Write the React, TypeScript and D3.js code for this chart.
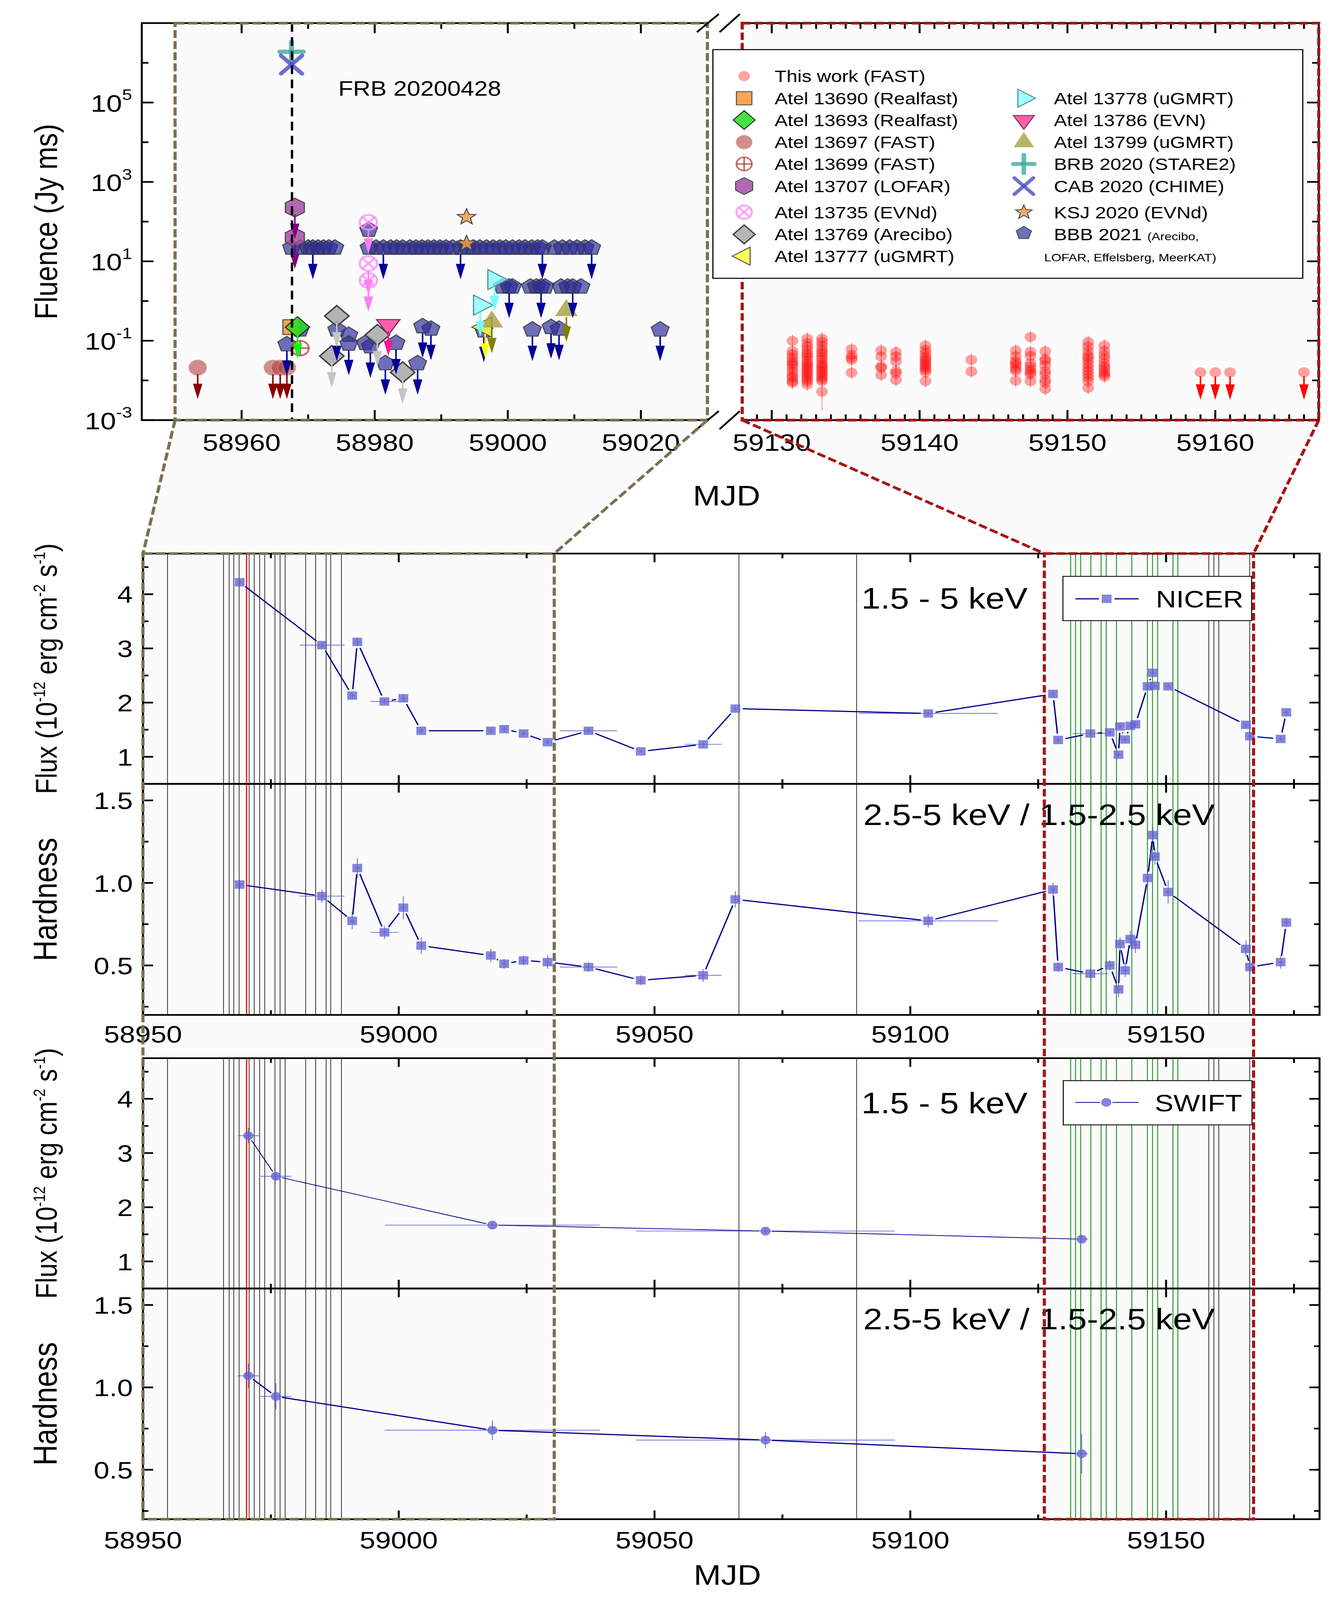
import React from "react";
import * as d3 from "d3";

const FONT = "'Liberation Sans', Arial, Helvetica, sans-serif";

// ---------------- top panel: radio fluence ----------------
const frbMjd = 58967.57;

const fastDays = [59131.4, 59132.4, 59133.4, 59135.4, 59137.4, 59138.4, 59140.4, 59143.5, 59146.5, 59147.5, 59148.5, 59151.4, 59152.5];
const fastFluence = [
  [0.099, 0.055, 0.045, 0.0375, 0.031, 0.027, 0.0238, 0.0196, 0.0161, 0.0133, 0.0117, 0.0096, 0.0087],
  [0.113, 0.087, 0.072, 0.059, 0.049, 0.043, 0.0375, 0.031, 0.027, 0.0238, 0.0209, 0.0184, 0.0161, 0.0142, 0.0124, 0.0109, 0.0096, 0.0079],
  [0.113, 0.093, 0.076, 0.061, 0.052, 0.045, 0.0375, 0.033, 0.027, 0.0238, 0.0209, 0.0184, 0.0161, 0.0142, 0.0124, 0.0109, 0.0096, 0.0052],
  [0.061, 0.044, 0.0375, 0.033, 0.0156],
  [0.057, 0.04, 0.0223, 0.0209, 0.0137],
  [0.052, 0.04, 0.03, 0.0172, 0.0151, 0.0103],
  [0.076, 0.059, 0.049, 0.04, 0.035, 0.031, 0.027, 0.0238, 0.0209, 0.0184, 0.0161, 0.0096],
  [0.033, 0.0167],
  [0.057, 0.041, 0.031, 0.027, 0.0238, 0.0196, 0.0172, 0.0099],
  [0.124, 0.052, 0.041, 0.027, 0.0223, 0.0184, 0.0161, 0.0142, 0.0096],
  [0.054, 0.035, 0.031, 0.0238, 0.0172, 0.0142, 0.0103, 0.0087, 0.0061],
  [0.093, 0.072, 0.055, 0.043, 0.0375, 0.031, 0.0254, 0.0209, 0.0172, 0.0142, 0.0117, 0.0096, 0.0065],
  [0.076, 0.055, 0.043, 0.035, 0.027, 0.0223, 0.0196, 0.0161, 0.0142, 0.0124],
];
const fastUpperDays = [59159.0, 59160.0, 59161.0, 59166.0];
const fastUpperFluence = [0.016, 0.016, 0.016, 0.016];

type Pt = { mjd: number; f: number; ul?: boolean };

const bbb2021: Pt[] = [
  { mjd: 58967.5, f: 22 }, { mjd: 58968.8, f: 22 }, { mjd: 58970.0, f: 22 }, { mjd: 58970.7, f: 22, ul: true },
  { mjd: 58971.5, f: 22 }, { mjd: 58972.3, f: 22 }, { mjd: 58973.1, f: 22 }, { mjd: 58974.0, f: 22 },
  { mjd: 58979.1, f: 62 },
  { mjd: 58979.15, f: 22 }, { mjd: 58980.2, f: 22 }, { mjd: 58981.3, f: 22, ul: true }, { mjd: 58982.4, f: 22 },
  { mjd: 58983.3, f: 22 }, { mjd: 58984.2, f: 22 }, { mjd: 58985.3, f: 22 }, { mjd: 58986.2, f: 22 },
  { mjd: 58987.1, f: 22 }, { mjd: 58988.0, f: 22 }, { mjd: 58988.9, f: 22 }, { mjd: 58989.8, f: 22 },
  { mjd: 58990.7, f: 22 }, { mjd: 58991.7, f: 22 }, { mjd: 58992.9, f: 22, ul: true }, { mjd: 58993.9, f: 22 },
  { mjd: 58994.8, f: 22 }, { mjd: 58995.8, f: 22 }, { mjd: 58996.8, f: 22 }, { mjd: 58997.8, f: 22 },
  { mjd: 58998.8, f: 22 }, { mjd: 58999.7, f: 22 }, { mjd: 59000.7, f: 22 }, { mjd: 59001.7, f: 22 },
  { mjd: 59002.6, f: 22 }, { mjd: 59003.6, f: 22 }, { mjd: 59004.5, f: 22 }, { mjd: 59005.2, f: 22, ul: true },
  { mjd: 59007.0, f: 22 }, { mjd: 59008.2, f: 22 }, { mjd: 59009.3, f: 22 }, { mjd: 59010.4, f: 22 },
  { mjd: 59011.6, f: 22 }, { mjd: 59012.6, f: 22, ul: true },
  { mjd: 58999.2, f: 2.3 }, { mjd: 59000.2, f: 2.3, ul: true }, { mjd: 59000.7, f: 2.3 }, { mjd: 59003.4, f: 2.3 },
  { mjd: 59004.3, f: 2.3 }, { mjd: 59005.0, f: 2.3, ul: true }, { mjd: 59005.6, f: 2.3 }, { mjd: 59008.0, f: 2.3 },
  { mjd: 59009.0, f: 2.3 }, { mjd: 59009.75, f: 2.3, ul: true }, { mjd: 59011.0, f: 2.3 },
  { mjd: 58966.8, f: 0.081, ul: true }, { mjd: 58968.8, f: 0.19 }, { mjd: 58974.3, f: 0.19, ul: true },
  { mjd: 58976.1, f: 0.14 }, { mjd: 58976.1, f: 0.084, ul: true }, { mjd: 58978.6, f: 0.087 },
  { mjd: 58979.35, f: 0.072, ul: true }, { mjd: 58981.6, f: 0.027, ul: true }, { mjd: 58983.2, f: 0.088, ul: true },
  { mjd: 58986.45, f: 0.027, ul: true }, { mjd: 58987.2, f: 0.23, ul: true }, { mjd: 58988.45, f: 0.2, ul: true },
  { mjd: 58996.4, f: 0.18, ul: true }, { mjd: 59003.7, f: 0.19, ul: true }, { mjd: 59006.5, f: 0.22, ul: true },
  { mjd: 59007.7, f: 0.2, ul: true }, { mjd: 59022.9, f: 0.19, ul: true },
];
const atel13769: Pt[] = [
  { mjd: 58974.3, f: 0.42, ul: true }, { mjd: 58973.55, f: 0.041, ul: true },
  { mjd: 58980.4, f: 0.14, ul: true }, { mjd: 58984.2, f: 0.016, ul: true },
];
const atel13697: Pt[] = [
  { mjd: 58953.4, f: 0.021, ul: true }, { mjd: 58964.7, f: 0.021, ul: true },
  { mjd: 58965.8, f: 0.021, ul: true }, { mjd: 58966.8, f: 0.021, ul: true },
];
const atel13699: Pt[] = [{ mjd: 58968.8, f: 0.065 }];
const atel13690: Pt[] = [{ mjd: 58967.5, f: 0.22 }];
const atel13693: Pt[] = [{ mjd: 58968.4, f: 0.22, ul: true }];
const atel13707: Pt[] = [{ mjd: 58968.0, f: 226, ul: true }, { mjd: 58968.0, f: 40, ul: true }];
const atel13735: Pt[] = [{ mjd: 58979.05, f: 96, ul: true }, { mjd: 58979.05, f: 8.8, ul: true }, { mjd: 58979.05, f: 3.3, ul: true }];
const atel13786: Pt[] = [{ mjd: 58982.05, f: 0.255, ul: true }];
const atel13778: Pt[] = [{ mjd: 58998.0, f: 3.46, ul: true }, { mjd: 58995.85, f: 0.79, ul: true }];
const atel13777: Pt[] = [{ mjd: 58996.6, f: 0.22, ul: true }];
const atel13799: Pt[] = [{ mjd: 58997.6, f: 0.3, ul: true }, { mjd: 59008.8, f: 0.58, ul: true }];
const ksj2020: Pt[] = [{ mjd: 58993.8, f: 130 }, { mjd: 58993.8, f: 28 }];
const brb2020: Pt[] = [{ mjd: 58967.5, f: 1.9e6 }];
const cab2020: Pt[] = [{ mjd: 58967.5, f: 9e5 }];

const topLeftTicks = [58960, 58980, 59000, 59020];
const topLeftMinor = [58970, 58990, 59010];
const topRightTicks = [59130, 59140, 59150, 59160];
const logMajor = [-3, -1, 1, 3, 5];
const logMinor = [-2, 0, 2, 4, 6];

// ---------------- lower panels: X-ray ----------------
const nicerMjd = [58968.9, 58985.0, 58990.9, 58991.9, 58997.2, 59000.9, 59004.4, 59018.0, 59020.6, 59024.4, 59029.1, 59037.1, 59047.3, 59059.5, 59065.8, 59103.5, 59127.9, 59128.9, 59135.2, 59139.0, 59140.7, 59141.0, 59142.0, 59143.0, 59144.0, 59146.4, 59147.4, 59147.8, 59150.4, 59165.6, 59166.4, 59172.4, 59173.5];
const nicerMjdErr = [0.5, 4.4, 0.5, 0.5, 2.75, 0.5, 0.5, 0.5, 0.5, 0.5, 0.5, 5.6, 0.5, 3.6, 0.5, 13.6, 0.5, 0.5, 3.5, 0.5, 0.5, 0.5, 0.5, 0.5, 0.5, 0.5, 0.5, 0.5, 0.5, 0.5, 0.5, 0.5, 0.5];
const nicerFlux = [4.22, 3.06, 2.13, 3.12, 2.02, 2.08, 1.48, 1.48, 1.51, 1.43, 1.27, 1.48, 1.1, 1.23, 1.89, 1.8, 2.16, 1.31, 1.43, 1.45, 1.04, 1.56, 1.32, 1.57, 1.6, 2.3, 2.55, 2.31, 2.3, 1.59, 1.38, 1.33, 1.82];
const nicerFluxErr = [0.04, 0.05, 0.05, 0.08, 0.04, 0.07, 0.04, 0.04, 0.05, 0.04, 0.04, 0.05, 0.03, 0.04, 0.05, 0.04, 0.05, 0.05, 0.04, 0.04, 0.04, 0.05, 0.05, 0.05, 0.05, 0.05, 0.06, 0.06, 0.05, 0.05, 0.05, 0.05, 0.06];
const nicerHard = [0.99, 0.92, 0.77, 1.09, 0.7, 0.85, 0.62, 0.56, 0.51, 0.53, 0.52, 0.49, 0.41, 0.44, 0.9, 0.77, 0.96, 0.49, 0.45, 0.5, 0.355, 0.63, 0.47, 0.66, 0.625, 1.03, 1.29, 1.16, 0.945, 0.6, 0.49, 0.52, 0.76];
const nicerHardErr = [0.03, 0.04, 0.05, 0.06, 0.04, 0.07, 0.05, 0.04, 0.03, 0.03, 0.04, 0.03, 0.03, 0.04, 0.05, 0.04, 0.04, 0.03, 0.03, 0.03, 0.05, 0.04, 0.04, 0.05, 0.05, 0.05, 0.05, 0.05, 0.07, 0.05, 0.04, 0.04, 0.03];

const swiftMjd = [58970.6, 58976.0, 59018.3, 59071.7, 59133.5];
const swiftMjdErr = [2.1, 3.0, 21.0, 25.3, 1.2];
const swiftFlux = [3.32, 2.57, 1.67, 1.56, 1.41];
const swiftFluxErr = [0.14, 0.06, 0.06, 0.05, 0.07];
const swiftHard = [1.07, 0.945, 0.74, 0.68, 0.597];
const swiftHardErr = [0.075, 0.08, 0.06, 0.05, 0.12];

const greyLines = [58954.8, 58965.75, 58966.85, 58967.75, 58968.8, 58970.75, 58971.75, 58972.8, 58973.8, 58975.8, 58976.8, 58977.8, 58981.8, 58983.75, 58985.8, 58986.7, 58988.8, 59066.5, 59089.5, 59158.35, 59159.35, 59160.3, 59166.35];
const redLines = [58970.25];
const greenLines = [59131.35, 59132.3, 59133.3, 59135.3, 59137.3, 59138.3, 59140.3, 59143.3, 59146.35, 59147.35, 59148.35, 59151.35, 59152.3];

const lowXTicks = [58950, 59000, 59050, 59100, 59150];
const lowXMinor = [58975, 59025, 59075, 59125, 59175];
const fluxTicks = [1, 2, 3, 4];
const fluxMinor = [1.5, 2.5, 3.5, 4.5];
const hardTicks = [0.5, 1.0, 1.5];
const hardMinor = [0.25, 0.75, 1.25];

// ---------------- marker drawing ----------------
const poly = (pts: number[][]) => "M" + pts.map((p) => `${p[0].toFixed(2)},${p[1].toFixed(2)}`).join("L") + "Z";
const regular = (n: number, R: number) =>
  poly(d3.range(n).map((k) => [R * Math.cos(-Math.PI / 2 + (2 * Math.PI * k) / n), R * Math.sin(-Math.PI / 2 + (2 * Math.PI * k) / n)]));
const starPath = (R: number, r: number) =>
  poly(d3.range(10).map((k) => {
    const a = -Math.PI / 2 + (Math.PI * k) / 5;
    const rr = k % 2 === 0 ? R : r;
    return [rr * Math.cos(a), rr * Math.sin(a)];
  }));

const PENT = regular(5, 24);
const HEX = regular(6, 28);
const STAR = starPath(25, 10.5);

function Marker({ kind, x, y, s = 1 }: { kind: string; x: number; y: number; s?: number }) {
  const t = `translate(${x},${y}) scale(${s})`;
  switch (kind) {
    case "pent":
      return <path d={PENT} transform={t} fill="#2b2b9c" fillOpacity={0.68} stroke="#3a3a3a" strokeOpacity={0.85} strokeWidth={3} />;
    case "hex":
      return <path d={HEX} transform={t} fill="#a64ca6" fillOpacity={0.85} stroke="#4a4a4a" strokeWidth={3} />;
    case "circX":
      return (
        <g transform={t} stroke="#ff88ff" strokeOpacity={0.75} strokeWidth={6} fill="none">
          <circle r={22} />
          <line x1={-17} y1={-17} x2={17} y2={17} />
          <line x1={-17} y1={17} x2={17} y2={-17} />
        </g>
      );
    case "diaGrey":
      return <rect x={-22} y={-22} width={44} height={44} transform={`${t} rotate(45)`} fill="#a2a2a2" fillOpacity={0.8} stroke="#404040" strokeWidth={4} />;
    case "sq":
      return <rect x={-22} y={-22} width={44} height={44} transform={t} fill="#ffa54f" stroke="#555" strokeWidth={3} />;
    case "diaGreen":
      return <rect x={-22} y={-22} width={44} height={44} transform={`${t} rotate(45)`} fill="#22dd22" fillOpacity={0.85} stroke="#2a2a2a" strokeWidth={3} />;
    case "circBrown":
      return <circle r={23} transform={t} fill="#b03c3c" fillOpacity={0.58} stroke="#e8a0a0" strokeOpacity={0.6} strokeWidth={2} />;
    case "circPlus":
      return (
        <g transform={t} stroke="#b04040" strokeOpacity={0.75} strokeWidth={5} fill="none">
          <circle r={22} />
          <line x1={-22} y1={0} x2={22} y2={0} />
          <line x1={0} y1={-22} x2={0} y2={22} />
        </g>
      );
    case "triDown":
      return <path d={poly([[-30, -15], [30, -15], [0, 31]])} transform={t} fill="#ff4fa0" fillOpacity={0.9} stroke="#7a3050" strokeWidth={3} />;
    case "triRight":
      return <path d={poly([[-17, -30], [-17, 30], [33, 0]])} transform={t} fill="#80ffff" fillOpacity={0.75} stroke="#4a9090" strokeWidth={3} />;
    case "triLeft":
      return <path d={poly([[17, -30], [17, 30], [-34, 0]])} transform={t} fill="#ffff3a" fillOpacity={0.85} stroke="#555" strokeWidth={3} />;
    case "triUp":
      return <path d={poly([[-29, 17], [29, 17], [0, -34]])} transform={t} fill="#a8a040" fillOpacity={0.8} />;
    case "plus":
      return (
        <g transform={t} stroke="#3fa8a0" strokeOpacity={0.8} strokeWidth={13} strokeLinecap="round">
          <line x1={-30} y1={0} x2={30} y2={0} />
          <line x1={0} y1={-30} x2={0} y2={30} />
        </g>
      );
    case "times":
      return (
        <g transform={t} stroke="#4b4bc8" strokeOpacity={0.8} strokeWidth={11} strokeLinecap="round">
          <line x1={-27} y1={-27} x2={27} y2={27} />
          <line x1={-27} y1={27} x2={27} y2={-27} />
        </g>
      );
    case "star":
      return <path d={STAR} transform={t} fill="#f59a4a" fillOpacity={0.85} stroke="#444" strokeWidth={2.5} />;
    case "fast":
      return <circle r={15} transform={t} fill="#ff0000" fillOpacity={0.36} />;
    default:
      return null;
  }
}

function Arrow({ x, y, color, start = 20, len = 94 }: { x: number; y: number; color: string; start?: number; len?: number }) {
  const tip = y + len;
  const hl = 46;
  return (
    <g>
      <line x1={x} y1={y + start} x2={x} y2={tip - hl + 4} stroke={color} strokeWidth={4} />
      <path d={poly([[x - 12, tip - hl], [x + 12, tip - hl], [x, tip]])} fill={color} />
    </g>
  );
}

const seriesStyle = [
  { data: bbb2021, kind: "pent", arrow: "#000099" },
  { data: atel13769, kind: "diaGrey", arrow: "#c4c4c4" },
  { data: atel13697, kind: "circBrown", arrow: "#8b0000" },
  { data: atel13699, kind: "circPlus", arrow: "#8b0000" },
  { data: atel13690, kind: "sq", arrow: "#ff8c00" },
  { data: atel13693, kind: "diaGreen", arrow: "#00ff00" },
  { data: atel13707, kind: "hex", arrow: "#800080" },
  { data: atel13735, kind: "circX", arrow: "#ff80f4" },
  { data: atel13786, kind: "triDown", arrow: "#ff1493" },
  { data: atel13778, kind: "triRight", arrow: "#70ffff" },
  { data: atel13777, kind: "triLeft", arrow: "#ffff00" },
  { data: atel13799, kind: "triUp", arrow: "#808000" },
  { data: ksj2020, kind: "star", arrow: "#ff8c00" },
  { data: brb2020, kind: "plus", arrow: "#3fa8a0" },
  { data: cab2020, kind: "times", arrow: "#4b4bc8" },
];

function gapped(pts: number[][], gap: number) {
  const out: number[][] = [];
  for (let i = 0; i < pts.length - 1; i++) {
    const [x1, y1] = pts[i];
    const [x2, y2] = pts[i + 1];
    const L = Math.hypot(x2 - x1, y2 - y1);
    if (L <= 2 * gap + 2) continue;
    const ux = (x2 - x1) / L, uy = (y2 - y1) / L;
    out.push([x1 + ux * gap, y1 + uy * gap, x2 - ux * gap, y2 - uy * gap]);
  }
  return out;
}

export default function App() {
  // drawing is laid out in the reference's 3415x4772 frame; the svg stretches that
  // frame over the actual viewport so nothing is lost if the window is shorter
  const W = 3415, H = 4772;
  const xL = d3.scaleLinear().domain([58945, 59030]).range([363, 1811]);
  const xR = d3.scaleLinear().domain([59128, 59167]).range([1900, 3376]);
  const yT = d3.scaleLog().domain([1e-3, 1e7]).range([1253, 69]);
  const xTop = (m: number) => (m < 59070 ? xL(m) : xR(m));
  const tTop = 69, tBot = 1253;

  const xB = d3.scaleLinear().domain([58950, 59180]).range([366, 3378]);
  const X0 = xB(58950), X1 = xB(59180);
  const panels = [
    { top: 1651, bot: 2338, y: d3.scaleLinear().domain([0.5, 4.75]).range([2338, 1651]), ticks: fluxTicks, minor: fluxMinor, fmt: (v: number) => `${v}`, labels: false },
    { top: 2338, bot: 3027, y: d3.scaleLinear().domain([0.2, 1.6]).range([3027, 2338]), ticks: hardTicks, minor: hardMinor, fmt: (v: number) => v.toFixed(1), labels: true },
    { top: 3156, bot: 3843, y: d3.scaleLinear().domain([0.5, 4.75]).range([3843, 3156]), ticks: fluxTicks, minor: fluxMinor, fmt: (v: number) => `${v}`, labels: false },
    { top: 3843, bot: 4531, y: d3.scaleLinear().domain([0.2, 1.6]).range([4531, 3843]), ticks: hardTicks, minor: hardMinor, fmt: (v: number) => v.toFixed(1), labels: true },
  ];
  const groups = [
    { top: 1651, bot: 3027 },
    { top: 3156, bot: 4531 },
  ];

  const oliveL = xB(58950), oliveR = xB(59030.4);
  const redL = xB(59126.2), redR = xB(59167.1);
  const boxTop = 1651, boxBot = 4531;

  const axisStroke = 5;
  const tickFont = 72;

  const series = (
    mjd: number[], mErr: number[], val: number[], vErr: number[], y: d3.ScaleLinear<number, number>,
    shape: "sq" | "circ", lineW: number
  ) => {
    const pts = mjd.map((m, i) => [xB(m), y(val[i])]);
    const segs = gapped(pts, shape === "sq" ? 19 : 16);
    return (
      <g>
        {mjd.map((m, i) => (
          <g key={`e${i}`} stroke="#4848d0" strokeOpacity={0.7} strokeWidth={2.5}>
            <line x1={xB(m - mErr[i])} x2={xB(m + mErr[i])} y1={y(val[i])} y2={y(val[i])} />
            <line x1={xB(m)} x2={xB(m)} y1={y(val[i] - vErr[i])} y2={y(val[i] + vErr[i])} />
          </g>
        ))}
        {segs.map((s, i) => (
          <line key={`s${i}`} x1={s[0]} y1={s[1]} x2={s[2]} y2={s[3]} stroke="#00008b" strokeWidth={lineW} />
        ))}
        {pts.map((p, i) =>
          shape === "sq" ? (
            <rect key={`m${i}`} x={p[0] - 12.5} y={p[1] - 12.5} width={25} height={25} fill="#6464d2" fillOpacity={0.78} />
          ) : (
            <circle key={`m${i}`} cx={p[0]} cy={p[1]} r={13} fill="#6464d2" fillOpacity={0.8} />
          )
        )}
      </g>
    );
  };

  const dashOlive = { stroke: "#7b7050", strokeWidth: 8, strokeDasharray: "24 9", fill: "none" };
  const dashRed = { stroke: "#a51616", strokeWidth: 8, strokeDasharray: "22 9", fill: "none" };

  const legendLeft = [
    { kind: "fast", label: "This work (FAST)", y: 227 },
    { kind: "sq", label: "Atel 13690 (Realfast)", y: 293 },
    { kind: "diaGreen", label: "Atel 13693 (Realfast)", y: 358 },
    { kind: "circBrown", label: "Atel 13697 (FAST)", y: 424 },
    { kind: "circPlus", label: "Atel 13699 (FAST)", y: 489 },
    { kind: "hex", label: "Atel 13707 (LOFAR)", y: 555 },
    { kind: "circX", label: "Atel 13735 (EVNd)", y: 633 },
    { kind: "diaGrey", label: "Atel 13769 (Arecibo)", y: 699 },
    { kind: "triLeft", label: "Atel 13777 (uGMRT)", y: 764 },
  ];
  const legendRight = [
    { kind: "triRight", label: "Atel 13778 (uGMRT)", y: 293 },
    { kind: "triDown", label: "Atel 13786 (EVN)", y: 358 },
    { kind: "triUp", label: "Atel 13799 (uGMRT)", y: 424 },
    { kind: "plus", label: "BRB 2020 (STARE2)", y: 489 },
    { kind: "times", label: "CAB 2020 (CHIME)", y: 555 },
    { kind: "star", label: "KSJ 2020 (EVNd)", y: 633 },
  ];

  const logLabel = (e: number) => (
    <text key={`ll${e}`} x={338} y={yT(Math.pow(10, e)) + 27} textAnchor="end" fontSize={tickFont}>
      10<tspan dy={-34} fontSize={46}>{e}</tspan>
    </text>
  );

  return (
    <div style={{ position: "absolute", left: 0, top: 0, width: "100vw", height: "100vh", overflow: "hidden" }}>
      <svg
        viewBox={`0 0 ${W} ${H}`}
        preserveAspectRatio="none"
        fontFamily={FONT}
        style={{ display: "block", width: "100vw", height: "100vh", background: "#fff" }}
      >
        <rect width={W} height={H} fill="#fff" />

        {/* faint shading of the zoomed regions */}
        <g fill="#000" fillOpacity={0.014}>
          <rect x={xL(58950)} y={tTop} width={xL(59030) - xL(58950)} height={tBot - tTop} />
          <rect x={xR(59128)} y={tTop} width={xR(59167) - xR(59128)} height={tBot - tTop} />
          <path d={poly([[xL(58950), tBot], [xL(59030), tBot], [oliveR, boxTop], [oliveL, boxTop]])} />
          <path d={poly([[xR(59128), tBot], [xR(59167), tBot], [redR, boxTop], [redL, boxTop]])} />
          <rect x={oliveL} y={boxTop} width={oliveR - oliveL} height={boxBot - boxTop} />
          <rect x={redL} y={boxTop} width={redR - redL} height={boxBot - boxTop} />
        </g>

        {/* ================= TOP PANEL ================= */}
        {fastDays.map((d, i) =>
          fastFluence[i].map((f, j) => (
            <g key={`f${i}-${j}`}>
              <line x1={xR(d)} x2={xR(d)} y1={yT(f * 1.45)} y2={yT(f / 1.45)} stroke="#ff3030" strokeOpacity={0.45} strokeWidth={2.5} />
              <Marker kind="fast" x={xR(d)} y={yT(f)} />
            </g>
          ))
        )}
        <line x1={xR(fastDays[2])} x2={xR(fastDays[2])} y1={yT(0.0052)} y2={yT(0.0017)} stroke="#ff3030" strokeOpacity={0.45} strokeWidth={2.5} />
        {fastUpperDays.map((d, i) => (
          <g key={`fu${i}`}>
            <Marker kind="fast" x={xR(d)} y={yT(fastUpperFluence[i])} />
            <Arrow x={xR(d)} y={yT(fastUpperFluence[i])} color="#ff0000" start={12} len={82} />
          </g>
        ))}

        {seriesStyle.map((s, si) =>
          s.data.map((p, i) => <Marker key={`m${si}-${i}`} kind={s.kind} x={xTop(p.mjd)} y={yT(p.f)} />)
        )}
        {seriesStyle.map((s, si) =>
          s.data.map((p, i) =>
            p.ul ? <Arrow key={`a${si}-${i}`} x={xTop(p.mjd)} y={yT(p.f)} color={s.arrow} /> : null
          )
        )}

        <line x1={xL(frbMjd)} x2={xL(frbMjd)} y1={tTop} y2={tBot} stroke="#000" strokeWidth={6} strokeDasharray="26 16" />
        <text x={866} y={285} fontSize={62}>FRB 20200428</text>

        <g stroke="#000" strokeWidth={axisStroke} fill="none">
          <line x1={xL(58945)} x2={xL(58945)} y1={tTop} y2={tBot} />
          <line x1={xL(58945) - 2} x2={xL(59030)} y1={tTop} y2={tTop} />
          <line x1={xL(58945) - 2} x2={xL(59030)} y1={tBot} y2={tBot} />
          <line x1={xR(59128)} x2={xR(59167) + 2} y1={tTop} y2={tTop} />
          <line x1={xR(59128)} x2={xR(59167) + 2} y1={tBot} y2={tBot} />
          <line x1={xR(59167)} x2={xR(59167)} y1={tTop} y2={tBot} />
          {topLeftTicks.map((t) => (
            <g key={`tl${t}`}>
              <line x1={xL(t)} x2={xL(t)} y1={tBot} y2={tBot - 30} />
              <line x1={xL(t)} x2={xL(t)} y1={tTop} y2={tTop + 30} />
            </g>
          ))}
          {topLeftMinor.map((t) => (
            <g key={`tlm${t}`}>
              <line x1={xL(t)} x2={xL(t)} y1={tBot} y2={tBot - 17} />
              <line x1={xL(t)} x2={xL(t)} y1={tTop} y2={tTop + 17} />
            </g>
          ))}
          {d3.range(59129, 59167).map((t) => {
            const major = topRightTicks.includes(t);
            const l = major ? 30 : 17;
            return (
              <g key={`tr${t}`}>
                <line x1={xR(t)} x2={xR(t)} y1={tBot} y2={tBot - l} />
                <line x1={xR(t)} x2={xR(t)} y1={tTop} y2={tTop + l} />
              </g>
            );
          })}
          {logMajor.concat(logMinor).map((e) => {
            const l = logMajor.includes(e) ? 30 : 17;
            const yy = yT(Math.pow(10, e));
            return (
              <g key={`ly${e}`}>
                <line x1={xL(58945)} x2={xL(58945) + l} y1={yy} y2={yy} />
                <line x1={xR(59167)} x2={xR(59167) - l} y1={yy} y2={yy} />
              </g>
            );
          })}
        </g>

        <rect x={xL(58950)} y={tTop} width={xL(59030) - xL(58950)} height={tBot - tTop} {...dashOlive} />
        <rect x={xR(59128)} y={tTop} width={xR(59167) - xR(59128)} height={tBot - tTop} {...dashRed} />

        {/* axis break marks */}
        <g stroke="#000" strokeWidth={5}>
          <line x1={1784} y1={tTop + 27} x2={1840} y2={tTop - 27} />
          <line x1={1842} y1={tTop + 27} x2={1894} y2={tTop - 27} />
          <line x1={1784} y1={tBot + 27} x2={1840} y2={tBot - 27} />
          <line x1={1842} y1={tBot + 27} x2={1894} y2={tBot - 27} />
        </g>

        <g fontSize={tickFont} textAnchor="middle">
          {topLeftTicks.map((t) => (
            <text key={`tlt${t}`} x={xL(t)} y={tBot + 91}>{t}</text>
          ))}
          {topRightTicks.map((t) => (
            <text key={`trt${t}`} x={xR(t)} y={tBot + 91}>{t}</text>
          ))}
        </g>
        {logMajor.map(logLabel)}
        <text transform={`translate(146,${(tTop + tBot) / 2}) rotate(-90)`} textAnchor="middle" fontSize={82}>Fluence (Jy ms)</text>
        <text x={1860} y={1507} textAnchor="middle" fontSize={84}>MJD</text>

        {/* top legend */}
        <rect x={1825} y={148} width={1510} height={682} fill="#fff" stroke="#000" strokeWidth={3} />
        {legendLeft.map((e) => (
          <g key={e.label}>
            <Marker kind={e.kind} x={1905} y={e.y} s={e.kind === "fast" ? 1 : 0.9} />
            <text x={1983} y={e.y + 18} fontSize={50}>{e.label}</text>
          </g>
        ))}
        {legendRight.map((e) => (
          <g key={e.label}>
            <Marker kind={e.kind} x={2621} y={e.y} s={0.9} />
            <text x={2698} y={e.y + 18} fontSize={50}>{e.label}</text>
          </g>
        ))}
        <Marker kind="pent" x={2621} y={695} s={0.85} />
        <text x={2698} y={717} fontSize={50}>BBB 2021 <tspan fontSize={33}>(Arecibo,</tspan></text>
        <text x={2673} y={780} fontSize={33}>LOFAR,  Effelsberg, MeerKAT)</text>

        {/* connectors from top panel to lower panels */}
        <line x1={xL(58950)} y1={tBot} x2={oliveL} y2={boxTop} {...dashOlive} />
        <line x1={xL(59030)} y1={tBot} x2={oliveR} y2={boxTop} {...dashOlive} />
        <line x1={xR(59128)} y1={tBot} x2={redL} y2={boxTop} {...dashRed} />
        <line x1={xR(59167)} y1={tBot} x2={redR} y2={boxTop} {...dashRed} />

        {/* ================= LOWER PANELS ================= */}
        {groups.map((g, gi) => (
          <g key={`vl${gi}`}>
            {greyLines.map((m) => (
              <line key={`g${m}`} x1={xB(m)} x2={xB(m)} y1={g.top} y2={g.bot} stroke="#333" strokeWidth={2} />
            ))}
            {greenLines.map((m) => (
              <line key={`gr${m}`} x1={xB(m)} x2={xB(m)} y1={g.top} y2={g.bot} stroke="#2e9a2e" strokeWidth={2.5} />
            ))}
            {redLines.map((m) => (
              <line key={`r${m}`} x1={xB(m)} x2={xB(m)} y1={g.top} y2={g.bot} stroke="#ff0000" strokeWidth={3} />
            ))}
          </g>
        ))}

        <g>
          <rect x={2721} y={1719} width={483} height={132} fill="#fff" stroke="#000" strokeWidth={2.5} />
          <line x1={2753} x2={2813} y1={1786} y2={1786} stroke="#00008b" strokeWidth={3.5} />
          <line x1={2853} x2={2915} y1={1786} y2={1786} stroke="#00008b" strokeWidth={3.5} />
          <rect x={2820.5} y={1773.5} width={25} height={25} fill="#6464d2" fillOpacity={0.78} />
          <text x={2959} y={1812} fontSize={72}>NICER</text>

          <rect x={2722} y={3223} width={483} height={132} fill="#fff" stroke="#000" strokeWidth={2.5} />
          <line x1={2753} x2={2816} y1={3288} y2={3288} stroke="#00008b" strokeWidth={2.5} />
          <line x1={2848} x2={2915} y1={3288} y2={3288} stroke="#00008b" strokeWidth={2.5} />
          <circle cx={2832} cy={3288} r={13} fill="#6464d2" fillOpacity={0.8} />
          <text x={2956} y={3314} fontSize={72}>SWIFT</text>
        </g>

        {series(nicerMjd, nicerMjdErr, nicerFlux, nicerFluxErr, panels[0].y, "sq", 3.5)}
        {series(nicerMjd, nicerMjdErr, nicerHard, nicerHardErr, panels[1].y, "sq", 3.5)}
        {series(swiftMjd, swiftMjdErr, swiftFlux, swiftFluxErr, panels[2].y, "circ", 2.2)}
        {series(swiftMjd, swiftMjdErr, swiftHard, swiftHardErr, panels[3].y, "circ", 3.5)}

        <g fontSize={88}>
          <text x={2205} y={1815}>1.5 - 5 keV</text>
          <text x={2210} y={2460}>2.5-5 keV / 1.5-2.5 keV</text>
          <text x={2205} y={3320}>1.5 - 5 keV</text>
          <text x={2210} y={3965}>2.5-5 keV / 1.5-2.5 keV</text>
        </g>

        {panels.map((p, pi) => (
          <g key={`ax${pi}`} stroke="#000" strokeWidth={axisStroke} fill="none">
            <rect x={X0} y={p.top} width={X1 - X0} height={p.bot - p.top} />
            {lowXTicks.concat(lowXMinor).map((t) => {
              const l = lowXTicks.includes(t) ? 26 : 14;
              return (
                <g key={`xt${t}`}>
                  <line x1={xB(t)} x2={xB(t)} y1={p.bot} y2={p.bot - l} />
                  <line x1={xB(t)} x2={xB(t)} y1={p.top} y2={p.top + l} />
                </g>
              );
            })}
            {p.ticks.concat(p.minor).map((t) => {
              const l = p.ticks.includes(t) ? 26 : 14;
              return (
                <g key={`yt${t}`}>
                  <line x1={X0} x2={X0 + l} y1={p.y(t)} y2={p.y(t)} />
                  <line x1={X1} x2={X1 - l} y1={p.y(t)} y2={p.y(t)} />
                </g>
              );
            })}
          </g>
        ))}
        {panels.map((p, pi) => (
          <g key={`lab${pi}`} fontSize={tickFont}>
            {p.ticks.map((t) => (
              <text key={`yl${t}`} x={X0 - 26} y={p.y(t) + 26} textAnchor="end">{p.fmt(t)}</text>
            ))}
            {p.labels &&
              lowXTicks.map((t) => (
                <text key={`xl${t}`} x={xB(t)} y={p.bot + (pi === 1 ? 83 : 87)} textAnchor="middle">{t}</text>
              ))}
          </g>
        ))}

        <rect x={oliveL} y={boxTop} width={oliveR - oliveL} height={boxBot - boxTop} {...dashOlive} />
        <rect x={redL} y={boxTop} width={redR - redL} height={boxBot - boxTop} {...dashRed} />

        {[panels[0], panels[2]].map((p, i) => (
          <text key={`ft${i}`} transform={`translate(145,${(p.top + p.bot) / 2}) rotate(-90)`} textAnchor="middle" fontSize={76}>
            Flux (10<tspan dy={-30} fontSize={42}>-12</tspan>
            <tspan dy={30}> erg cm</tspan>
            <tspan dy={-30} fontSize={42}>-2</tspan>
            <tspan dy={30}> s</tspan>
            <tspan dy={-30} fontSize={42}>-1</tspan>
            <tspan dy={30}>)</tspan>
          </text>
        ))}
        {[panels[1], panels[3]].map((p, i) => (
          <text key={`ht${i}`} transform={`translate(145,${(p.top + p.bot) / 2}) rotate(-90)`} textAnchor="middle" fontSize={86}>
            Hardness
          </text>
        ))}
        <text x={1862} y={4726} textAnchor="middle" fontSize={84}>MJD</text>
      </svg>
    </div>
  );
}
